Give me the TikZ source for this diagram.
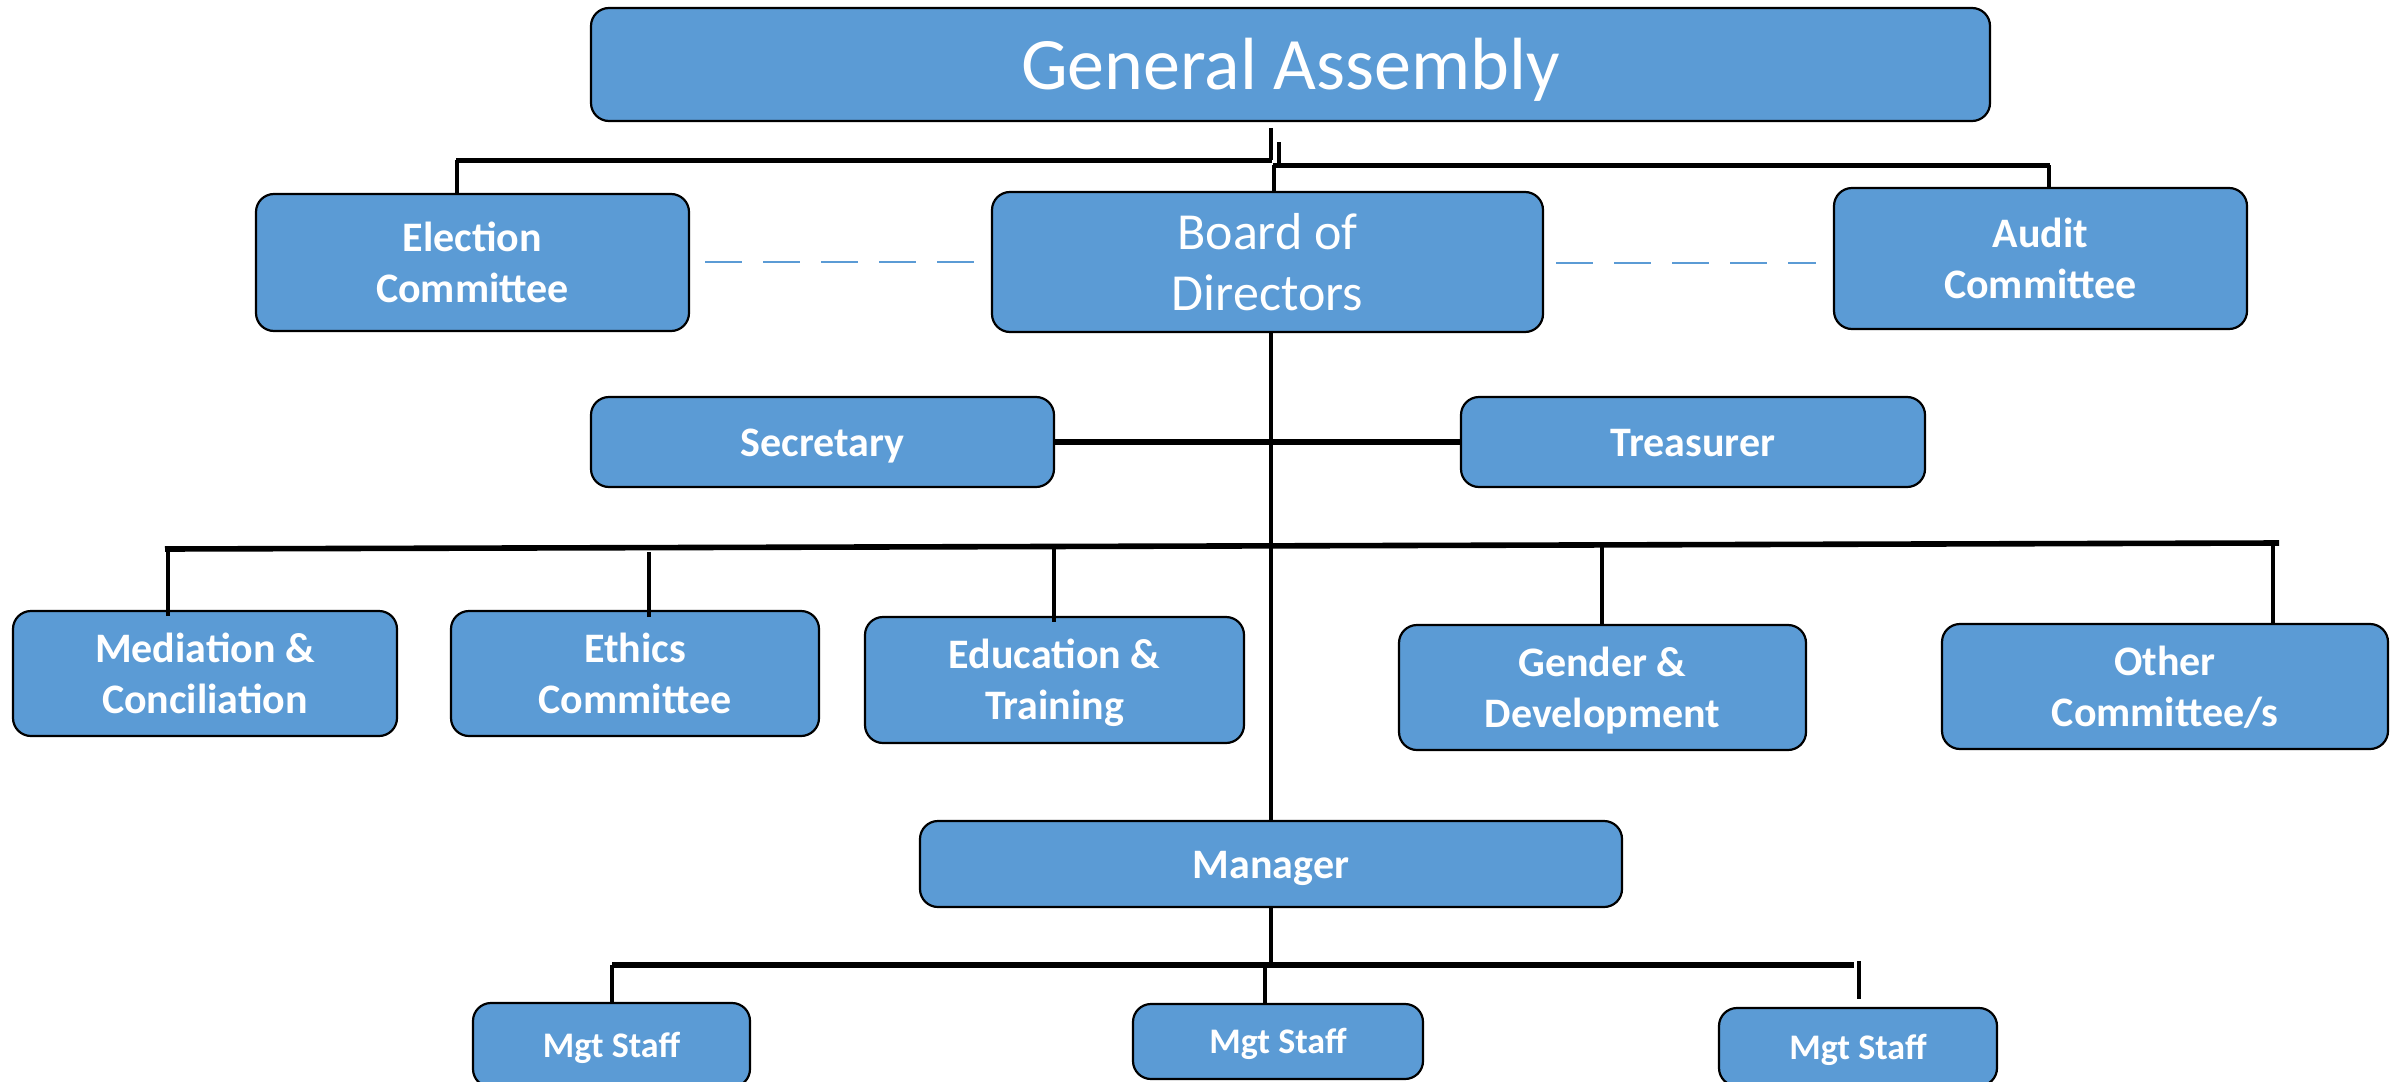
\documentclass[tikz,border=0pt]{standalone}
\usepackage{fontspec}
\setmainfont{Carlito}
\definecolor{boxblue}{HTML}{5B9BD5}
\definecolor{dashblue}{HTML}{5B9BD5}
\newcommand\mystrutA{\rule{0pt}{0.952em}}
\newcommand\mystrutB{\rule[-0.269em]{0pt}{0.269em}}
\newcommand\mystrutC{\rule{0pt}{\dimexpr\baselineskip+0.952em\relax}}
\tikzset{
  box/.style={draw=black, line width=1.1pt, fill=boxblue, rounded corners=9pt,
    text=white, align=center, inner sep=0pt,
    execute at begin node=\mystrutA, execute at end node=\mystrutB},
  twoline/.style={execute at begin node=\mystrutC},
  lbl/.style={box, font=\fontsize{21}{25.5}\selectfont\bfseries},
  lbltwo/.style={lbl, twoline},
  mgt/.style={box, font=\fontsize{18}{21}\selectfont\bfseries},
  bus/.style={line width=2.8pt, black},
  drop/.style={line width=2pt, black},
  dashlink/.style={line width=1pt, dashblue, dash pattern=on 18.5pt off 10.5pt}
}
\begin{document}
\begin{tikzpicture}[x=0.5pt, y=-0.5pt]
\useasboundingbox (0,0) rectangle (2397,1081);
\clip (0,0) rectangle (2397,1081);
% nodes
\node[box, font=\fontsize{37}{44}\selectfont, minimum width=699.5pt, minimum height=56.5pt] (ga) at (1290.5,64.5) {General Assembly};
\node[lbltwo, minimum width=216.5pt, minimum height=68.5pt] (el) at (472.5,262.5) {Election\\Committee};
\node[box, twoline, font=\fontsize{26}{30.5}\selectfont, minimum width=275.5pt, minimum height=70pt] (bd) at (1267.5,262) {Board of\\Directors};
\node[lbltwo, minimum width=206.5pt, minimum height=70.5pt] (au) at (2040.5,258.5) {Audit\\Committee};
\node[lbl, minimum width=231.5pt, minimum height=45pt] (se) at (822.5,442) {Secretary};
\node[lbl, minimum width=232pt, minimum height=45pt] (tr) at (1693,442) {Treasurer};
\node[lbltwo, minimum width=192pt, minimum height=62.5pt] (me) at (205,673.5) {Mediation \&\\Conciliation};
\node[lbltwo, minimum width=184pt, minimum height=62.5pt] (et) at (635,673.5) {Ethics\\Committee};
\node[lbltwo, minimum width=189.5pt, minimum height=63pt] (ed) at (1054.5,680) {Education \&\\Training};
\node[lbltwo, minimum width=203.5pt, minimum height=62.5pt] (ge) at (1602.5,687.5) {Gender \&\\Development};
\node[lbltwo, minimum width=223pt, minimum height=62.5pt] (ot) at (2165,686.5) {Other\\Committee/s};
\node[lbl, minimum width=351pt, minimum height=43pt] (mn) at (1271,864) {Manager};
\node[mgt, minimum width=138.5pt, minimum height=42pt] (m1) at (611.5,1045) {Mgt Staff};
\node[mgt, minimum width=145pt, minimum height=37.5pt] (m2) at (1278,1041.5) {Mgt Staff};
\node[mgt, minimum width=139pt, minimum height=39pt] (m3) at (1858,1047) {Mgt Staff};
% junction coordinates
\coordinate (gaL) at (1271,128);
\coordinate (gaR) at (1279,142);
\coordinate (busL) at (165,549);
\coordinate (busR) at (2279,543);
\coordinate (m3end) at (1859,999);
% top connectors
\draw[drop] (gaL) -- (1271,160);
\draw[line width=2.5pt] (1272,160) -- (456,160);
\draw[drop] (457,160) -- (el.north -| 457,0);
\draw[drop] (gaR) -- (1279,165);
\draw[line width=2.5pt] (1273,165) -- (2050,165);
\draw[drop] (1274,165) -- (bd.north -| 1274,0);
\draw[drop] (2049,165) -- (au.north -| 2049,0);
% dashed links
\draw[dashlink] (705,262) -- (987,262);
\draw[dashlink] (1556,263) -- (1816,263);
% main vertical
\draw[line width=2.2pt] (bd.south -| 1271,0) -- (mn.north -| 1271,0);
% secretary - treasurer
\draw[bus] (se.east) -- (tr.west);
% committee bus
\draw[bus] (busL) -- (busR);
\draw[drop] (168,549) -- (me.north -| 168,0) -- +(0,6);
\draw[drop] (649,552) -- (et.north -| 649,0) -- +(0,7);
\draw[drop] (1054,548) -- (ed.north -| 1054,0) -- +(0,6);
\draw[drop] (1602,545) -- (ge.north -| 1602,0);
\draw[drop] (2273,544) -- (ot.north -| 2273,0);
% manager bus
\draw[line width=2.2pt] (mn.south -| 1271,0) -- (1271,965);
\draw[bus] (612,965) -- (1854,965);
\draw[drop] (612,965) -- (m1.north -| 612,0);
\draw[drop] (1265,965) -- (m2.north -| 1265,0);
\draw[drop] (1859,961) -- (m3end);
\end{tikzpicture}
\end{document}
